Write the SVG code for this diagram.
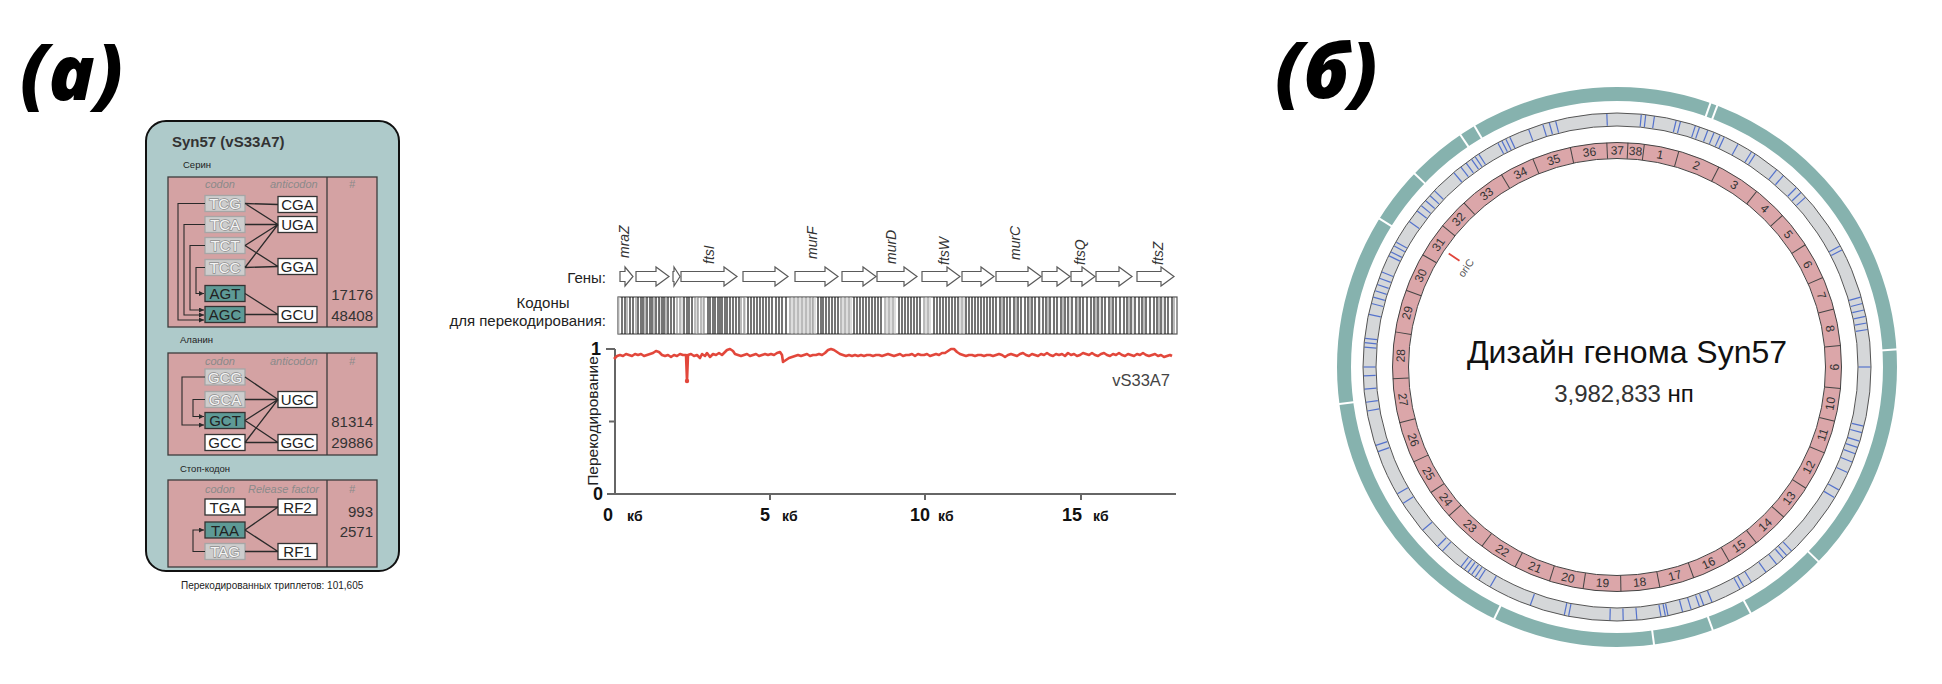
<svg xmlns="http://www.w3.org/2000/svg" width="1942" height="684" viewBox="0 0 1942 684">
<defs>
<style>
text{font-family:"Liberation Sans",Arial,sans-serif}
.pl{font-family:"Open Sans","DejaVu Sans",sans-serif;font-weight:800;font-style:italic;font-size:76px;fill:#000}
.ib{fill:#d4a2a3;stroke:#3c3c3c;stroke-width:1.3}
.hd{font-size:11px;font-style:italic;fill:#8a8a8a}
.bx text{font-size:15px;text-anchor:middle;fill:#222}
.cg rect{fill:#cdcdcd;stroke:#a6a6a6;stroke-width:1.3}
.cg text{fill:#f4f4f4;stroke:#8e8e8e;stroke-width:1.4;paint-order:stroke}
.ct rect{fill:#5e9a96;stroke:#333;stroke-width:1.3}
.cw rect{fill:#fff;stroke:#333;stroke-width:1.3}
.num{font-size:15px;text-anchor:end;fill:#333}
.sec{font-size:9.5px;fill:#222}
.ln{stroke:#2a2a2a;stroke-width:1.3;fill:none}
.el{stroke:#2a2a2a;stroke-width:1.1;fill:none;marker-end:url(#ah)}
.ga{fill:#fff;stroke:#5a5a5a;stroke-width:1.2}
.gl{font-size:14px;font-style:italic;fill:#333}
.ax{stroke:#666;stroke-width:2;fill:none}
.xl{font-size:18px;font-weight:bold;fill:#111}
.xk{font-size:14px;font-weight:bold;fill:#111}
.sl{font-size:12px;fill:#333;text-anchor:middle;dominant-baseline:central}
.bt{stroke:#5472cc;stroke-width:1.2}
.tg{stroke:#fff;stroke-width:2}
.pb{stroke:#444;stroke-width:1}
.bc{stroke-width:1}
</style>
<marker id="ah" viewBox="0 0 6 6" refX="6" refY="3" markerWidth="5" markerHeight="5" markerUnits="userSpaceOnUse" orient="auto"><path d="M0,0L6,3L0,6z" fill="#2a2a2a"/></marker>
<line id="bt" class="bt" x1="1617" y1="113.5" x2="1617" y2="125.5"/>
<line id="tg" class="tg" x1="1617" y1="85" x2="1617" y2="103"/>
<line id="pb" class="pb" x1="1617" y1="142.5" x2="1617" y2="158.5"/>
</defs>
<rect width="1942" height="684" fill="#fff"/>

<text class="pl" x="20" y="100">(a)</text>
<text class="pl" x="1275" y="98">(б)</text>

<!-- Panel a: codon table -->
<g id="syn57-box">
<rect x="146" y="121" width="253" height="450" rx="20" fill="#aecaca" stroke="#111" stroke-width="2"/>
<text x="172" y="147" font-size="15" font-weight="bold" fill="#333">Syn57 (vS33A7)</text>
<text class="sec" x="183" y="168">Серин</text>
<text class="sec" x="180" y="343">Аланин</text>
<text class="sec" x="180" y="472">Стоп-кодон</text>
</g>

<g id="serine-table">
<rect class="ib" x="168" y="177" width="209" height="150"/>
<line x1="327" y1="177" x2="327" y2="327" stroke="#3c3c3c" stroke-width="1.3"/>
<text class="hd" x="205" y="188">codon</text>
<text class="hd" x="270" y="188">anticodon</text>
<text class="hd" x="352" y="188" text-anchor="middle">#</text>
<text class="num" x="373" y="300">17176</text>
<text class="num" x="373" y="321">48408</text>
</g>
<g id="c-TCG" class="bx cg"><rect x="205" y="195.5" width="40" height="16"/><text x="225" y="209">TCG</text></g>
<g id="c-TCA" class="bx cg"><rect x="205" y="216.5" width="40" height="16"/><text x="225" y="230">TCA</text></g>
<g id="c-TCT" class="bx cg"><rect x="205" y="237.5" width="40" height="16"/><text x="225" y="251">TCT</text></g>
<g id="c-TCC" class="bx cg"><rect x="205" y="259.5" width="40" height="16"/><text x="225" y="273">TCC</text></g>
<g id="c-AGT" class="bx ct"><rect x="205" y="285.5" width="40" height="16"/><text x="225" y="299">AGT</text></g>
<g id="c-AGC" class="bx ct"><rect x="205" y="306.5" width="40" height="16"/><text x="225" y="320">AGC</text></g>
<g id="a-CGA" class="bx cw"><rect x="278" y="196.5" width="39" height="16"/><text x="297.5" y="210">CGA</text></g>
<g id="a-UGA" class="bx cw"><rect x="278" y="216.5" width="39" height="16"/><text x="297.5" y="230">UGA</text></g>
<g id="a-GGA" class="bx cw"><rect x="278" y="258.5" width="39" height="16"/><text x="297.5" y="272">GGA</text></g>
<g id="a-GCU" class="bx cw"><rect x="278" y="306.5" width="39" height="16"/><text x="297.5" y="320">GCU</text></g>

<g id="alanine-table">
<rect class="ib" x="168" y="353" width="209" height="102"/>
<line x1="327" y1="353" x2="327" y2="455" stroke="#3c3c3c" stroke-width="1.3"/>
<text class="hd" x="205" y="365">codon</text>
<text class="hd" x="270" y="365">anticodon</text>
<text class="hd" x="352" y="365" text-anchor="middle">#</text>
<text class="num" x="373" y="427">81314</text>
<text class="num" x="373" y="448">29886</text>
</g>
<g id="c-GCG" class="bx cg"><rect x="205" y="369" width="40" height="16"/><text x="225" y="382.5">GCG</text></g>
<g id="c-GCA" class="bx cg"><rect x="205" y="391.5" width="40" height="16"/><text x="225" y="405">GCA</text></g>
<g id="c-GCT" class="bx ct"><rect x="205" y="412.5" width="40" height="16"/><text x="225" y="426">GCT</text></g>
<g id="c-GCC" class="bx cw"><rect x="205" y="434.5" width="40" height="16"/><text x="225" y="448">GCC</text></g>
<g id="a-UGC" class="bx cw"><rect x="278" y="391.5" width="39" height="16"/><text x="297.5" y="405">UGC</text></g>
<g id="a-GGC" class="bx cw"><rect x="278" y="434.5" width="39" height="16"/><text x="297.5" y="448">GGC</text></g>

<g id="stop-table">
<rect class="ib" x="168" y="480" width="209" height="87"/>
<line x1="327" y1="480" x2="327" y2="567" stroke="#3c3c3c" stroke-width="1.3"/>
<text class="hd" x="205" y="493">codon</text>
<text class="hd" x="248" y="493">Release factor</text>
<text class="hd" x="352" y="493" text-anchor="middle">#</text>
<text class="num" x="373" y="517">993</text>
<text class="num" x="373" y="537">2571</text>
</g>
<g id="c-TGA" class="bx cw"><rect x="205" y="499" width="40" height="16"/><text x="225" y="512.5">TGA</text></g>
<g id="c-TAA" class="bx ct"><rect x="205" y="522" width="40" height="16"/><text x="225" y="535.5">TAA</text></g>
<g id="c-TAG" class="bx cg"><rect x="205" y="543.5" width="40" height="16"/><text x="225" y="557">TAG</text></g>
<g id="r-RF2" class="bx cw"><rect x="278" y="499" width="39" height="16"/><text x="297.5" y="512.5">RF2</text></g>
<g id="r-RF1" class="bx cw"><rect x="278" y="543.5" width="39" height="16"/><text x="297.5" y="557">RF1</text></g>

<text id="footer" x="181" y="589" font-size="10" fill="#222">Перекодированных триплетов: 101,605</text>

<g id="connectors">
<path class="ln" d="M245 203.5L278 204.5M245 203.5L278 224.5M245 224.5L278 224.5M245 245.5L278 224.5M245 245.5L278 266.5M245 267.5L278 266.5M245 267.5L278 224.5M245 293.5L278 314.5M245 314.5L278 314.5"/>
<path class="ln" d="M245 377L278 399.5M245 399.5L278 399.5M245 420.5L278 399.5M245 420.5L278 442.5M245 442.5L278 399.5M245 442.5L278 442.5"/>
<path class="ln" d="M245 507L278 507M245 530L278 507M245 530L278 551.5M245 551.5L278 551.5"/>
<path class="el" d="M205 203.5H178V320H204"/>
<path class="el" d="M205 224.5H184V315H204"/>
<path class="el" d="M205 245.5H190V310H204"/>
<path class="el" d="M205 267.5H196V293.5H204"/>
<path class="el" d="M205 377H182V425H204"/>
<path class="el" d="M205 399.5H193V416.5H204"/>
<path class="el" d="M205 551.5H193V530H204"/>
</g>

<!-- Panel a: recoding chart -->
<g id="gene-track">
<text x="606" y="283" font-size="15" fill="#222" text-anchor="end">Гены:</text>
<path class="ga" d="M620 271.5H625V267L633 276.5L625 286V281.5H620Z"/>
<path class="ga" d="M636 271.5H656V267L669 276.5L656 286V281.5H636Z"/>
<path class="ga" d="M673 271.5H674V267L680 276.5L674 286V281.5H673Z"/>
<path class="ga" d="M681 271.5H724V267L737 276.5L724 286V281.5H681Z"/>
<path class="ga" d="M743 271.5H775V267L788 276.5L775 286V281.5H743Z"/>
<path class="ga" d="M795 271.5H825V267L838 276.5L825 286V281.5H795Z"/>
<path class="ga" d="M842 271.5H863V267L876 276.5L863 286V281.5H842Z"/>
<path class="ga" d="M877 271.5H904V267L917 276.5L904 286V281.5H877Z"/>
<path class="ga" d="M922 271.5H947V267L960 276.5L947 286V281.5H922Z"/>
<path class="ga" d="M962 271.5H981V267L994 276.5L981 286V281.5H962Z"/>
<path class="ga" d="M996 271.5H1028V267L1041 276.5L1028 286V281.5H996Z"/>
<path class="ga" d="M1042 271.5H1057V267L1070 276.5L1057 286V281.5H1042Z"/>
<path class="ga" d="M1071 271.5H1082V267L1095 276.5L1082 286V281.5H1071Z"/>
<path class="ga" d="M1096 271.5H1119V267L1132 276.5L1119 286V281.5H1096Z"/>
<path class="ga" d="M1137 271.5H1161V267L1174 276.5L1161 286V281.5H1137Z"/>
<text class="gl" transform="translate(629 258) rotate(-90)">mraZ</text>
<text class="gl" transform="translate(714 264) rotate(-90)">ftsI</text>
<text class="gl" transform="translate(817 259) rotate(-90)">murF</text>
<text class="gl" transform="translate(896 264) rotate(-90)">murD</text>
<text class="gl" transform="translate(949 265) rotate(-90)">ftsW</text>
<text class="gl" transform="translate(1020 260) rotate(-90)">murC</text>
<text class="gl" transform="translate(1085 265) rotate(-90)">ftsQ</text>
<text class="gl" transform="translate(1163 265) rotate(-90)">ftsZ</text>
</g>

<g id="codon-track">
<text x="543" y="308" font-size="15" fill="#222" text-anchor="middle">Кодоны</text>
<text x="606" y="326" font-size="15" fill="#222" text-anchor="end">для перекодирования:</text>
<rect x="618" y="297" width="559" height="37" fill="#fff" stroke="#555" stroke-width="1.2"/>
<path stroke="#bbb" class="bc" d="M619 297v37M660 297v37M682 297v37M697 297v37M703 297v37M745 297v37M792 297v37M796 297v37M800 297v37M804 297v37M808 297v37M812 297v37M815 297v37M843 297v37M847 297v37M851 297v37M887 297v37M891 297v37M895 297v37M926 297v37M930 297v37M960 297v37M964 297v37M1040 297v37M1070 297v37M1100 297v37M1133 297v37M1163 297v37"/>
<path stroke="#777" class="bc" d="M627 297v37M636 297v37M645 297v37M654 297v37M666 297v37M677 297v37M680 297v37M695 297v37M698 297v37M701 297v37M704 297v37M741 297v37M744 297v37M790 297v37M794 297v37M798 297v37M802 297v37M806 297v37M810 297v37M813 297v37M841 297v37M845 297v37M849 297v37M885 297v37M889 297v37M893 297v37M924 297v37M928 297v37M962 297v37M1002 297v37M1016 297v37M1030 297v37M1048 297v37M1063 297v37M1078 297v37M1096 297v37M1111 297v37M1129 297v37M1144 297v37M1159 297v37M1174 297v37"/>
<path stroke="#1a1a1a" stroke-width="1.2" d="M622 297v37M625 297v37M630 297v37M633 297v37M638 297v37M641 297v37M643 297v37M647 297v37M650 297v37M652 297v37M656 297v37M659 297v37M662 297v37M664 297v37M668 297v37M671 297v37M674 297v37M684 297v37M687 297v37M689 297v37M692 297v37M708 297v37M710 297v37M713 297v37M715 297v37M718 297v37M720 297v37M722 297v37M725 297v37M727 297v37M730 297v37M733 297v37M736 297v37M739 297v37M748 297v37M751 297v37M754 297v37M757 297v37M760 297v37M763 297v37M766 297v37M769 297v37M772 297v37M776 297v37M779 297v37M782 297v37M786 297v37M818 297v37M821 297v37M823 297v37M826 297v37M829 297v37M832 297v37M835 297v37M838 297v37M854 297v37M857 297v37M860 297v37M863 297v37M866 297v37M869 297v37M872 297v37M875 297v37M878 297v37M881 297v37M899 297v37M902 297v37M905 297v37M908 297v37M911 297v37M914 297v37M917 297v37M920 297v37M934 297v37M937 297v37M940 297v37M943 297v37M946 297v37M949 297v37M952 297v37M955 297v37M958 297v37M966 297v37M969 297v37M972 297v37M975 297v37M978 297v37M981 297v37M984 297v37M987 297v37M990 297v37M993 297v37M996 297v37M1000 297v37M1004 297v37M1007 297v37M1010 297v37M1014 297v37M1018 297v37M1021 297v37M1025 297v37M1028 297v37M1032 297v37M1035 297v37M1039 297v37M1043 297v37M1046 297v37M1050 297v37M1054 297v37M1057 297v37M1061 297v37M1065 297v37M1068 297v37M1072 297v37M1076 297v37M1080 297v37M1083 297v37M1087 297v37M1091 297v37M1094 297v37M1098 297v37M1102 297v37M1105 297v37M1109 297v37M1113 297v37M1116 297v37M1120 297v37M1124 297v37M1127 297v37M1131 297v37M1135 297v37M1139 297v37M1142 297v37M1146 297v37M1150 297v37M1154 297v37M1157 297v37M1161 297v37M1165 297v37M1168 297v37M1172 297v37"/>
</g>

<g id="recoding-plot">
<path class="ax" d="M615 349V494M607 494H1176M606 349H615M609 421.5H615M770 494v6M925 494v6M1081 494v6"/>
<text class="xl" x="601" y="355" text-anchor="end">1</text>
<text class="xl" x="603" y="500" text-anchor="end">0</text>
<text font-size="15.5" fill="#222" text-anchor="middle" transform="translate(598 421) rotate(-90)">Перекодирование</text>
<text class="xl" x="603" y="521">0</text>
<text class="xk" x="627" y="521">кб</text>
<text class="xl" x="760" y="521">5</text>
<text class="xk" x="782" y="521">кб</text>
<text class="xl" x="910" y="521">10</text>
<text class="xk" x="938" y="521">кб</text>
<text class="xl" x="1062" y="521">15</text>
<text class="xk" x="1093" y="521">кб</text>
<text x="1170" y="386" font-size="16.5" fill="#444" text-anchor="end">vS33A7</text>
<polyline fill="none" stroke="#e2473b" stroke-width="2.6" stroke-linejoin="round" points="614,359 617,356 620,355 623,356 626,354 629,355 632,356 635,354 638,355 641,354 644,356 647,355 650,354 653,353 656,351 659,352 662,355 665,356 668,355 671,357 674,355 677,356 680,354 683,355 686,355 687,381 688,355 691,354 694,356 697,355 700,358 702,354 705,356 707,353 710,357 713,354 716,355 719,353 722,355 725,352 727,350 730,349 733,351 735,354 738,355 741,356 744,355 747,354 750,356 753,355 756,354 759,356 762,355 765,354 768,355 771,354 774,355 777,353 780,352 782,355 783,362 786,360 789,358 792,357 795,356 798,355 801,356 804,355 807,354 810,356 813,355 816,355 819,354 822,355 825,353 828,350 831,349 834,350 837,352 840,354 843,355 846,356 849,355 852,356 855,355 858,356 861,355 864,356 867,355 870,355 873,356 876,355 879,355 882,356 885,355 888,354 891,355 894,356 897,355 900,354 903,356 906,355 909,355 912,354 915,356 918,354 921,355 924,355 927,354 930,356 933,355 936,354 939,355 942,353 945,353 948,351 951,349 954,349 957,352 960,354 963,355 966,356 969,355 972,355 975,356 978,355 981,355 984,356 987,355 990,355 993,356 996,355 999,354 1002,355 1005,357 1008,355 1011,354 1014,355 1017,356 1020,354 1023,353 1026,355 1029,356 1032,354 1035,355 1038,356 1041,354 1044,355 1047,353 1050,355 1053,356 1056,354 1059,355 1062,354 1065,356 1068,353 1071,355 1074,354 1077,356 1080,355 1083,353 1086,354 1089,355 1092,353 1095,355 1098,356 1101,354 1104,353 1107,355 1110,356 1113,354 1116,355 1119,353 1122,355 1125,356 1128,354 1131,355 1134,356 1137,354 1140,355 1143,353 1146,355 1149,356 1152,355 1155,354 1158,356 1161,355 1164,357 1167,356 1170,355 1172,356"/>
<circle cx="687" cy="381" r="2.2" fill="#e2473b"/>
</g>

<!-- Panel b: genome circle -->
<g id="outer-ring">
<circle cx="1617" cy="367" r="273" fill="none" stroke="#86b2ae" stroke-width="14"/>
<use href="#tg" transform="rotate(19.5 1617 367)"/>
<use href="#tg" transform="rotate(21 1617 367)"/>
<use href="#tg" transform="rotate(86.4 1617 367)"/>
<use href="#tg" transform="rotate(134 1617 367)"/>
<use href="#tg" transform="rotate(151.5 1617 367)"/>
<use href="#tg" transform="rotate(160 1617 367)"/>
<use href="#tg" transform="rotate(172.4 1617 367)"/>
<use href="#tg" transform="rotate(206 1617 367)"/>
<use href="#tg" transform="rotate(262.4 1617 367)"/>
<use href="#tg" transform="rotate(302 1617 367)"/>
<use href="#tg" transform="rotate(313.7 1617 367)"/>
<use href="#tg" transform="rotate(326 1617 367)"/>
<use href="#tg" transform="rotate(329.4 1617 367)"/>
</g>

<g id="gray-ring">
<circle cx="1617" cy="367" r="247.5" fill="none" stroke="#d5d7d9" stroke-width="13"/>
<g>
<use href="#bt" transform="rotate(357.7 1617 367)"/><use href="#bt" transform="rotate(346 1617 367)"/><use href="#bt" transform="rotate(344.5 1617 367)"/><use href="#bt" transform="rotate(343 1617 367)"/><use href="#bt" transform="rotate(339.6 1617 367)"/><use href="#bt" transform="rotate(335 1617 367)"/><use href="#bt" transform="rotate(334 1617 367)"/><use href="#bt" transform="rotate(333 1617 367)"/><use href="#bt" transform="rotate(332 1617 367)"/><use href="#bt" transform="rotate(327 1617 367)"/><use href="#bt" transform="rotate(326 1617 367)"/><use href="#bt" transform="rotate(325 1617 367)"/><use href="#bt" transform="rotate(323.5 1617 367)"/><use href="#bt" transform="rotate(322 1617 367)"/><use href="#bt" transform="rotate(320 1617 367)"/><use href="#bt" transform="rotate(314 1617 367)"/><use href="#bt" transform="rotate(312.5 1617 367)"/><use href="#bt" transform="rotate(311 1617 367)"/><use href="#bt" transform="rotate(309.5 1617 367)"/><use href="#bt" transform="rotate(308 1617 367)"/><use href="#bt" transform="rotate(305 1617 367)"/><use href="#bt" transform="rotate(299.5 1617 367)"/><use href="#bt" transform="rotate(298.5 1617 367)"/><use href="#bt" transform="rotate(297 1617 367)"/><use href="#bt" transform="rotate(296 1617 367)"/><use href="#bt" transform="rotate(292 1617 367)"/><use href="#bt" transform="rotate(290.5 1617 367)"/><use href="#bt" transform="rotate(289 1617 367)"/><use href="#bt" transform="rotate(287.5 1617 367)"/><use href="#bt" transform="rotate(286 1617 367)"/><use href="#bt" transform="rotate(284.5 1617 367)"/><use href="#bt" transform="rotate(282 1617 367)"/><use href="#bt" transform="rotate(276.5 1617 367)"/><use href="#bt" transform="rotate(275.5 1617 367)"/><use href="#bt" transform="rotate(274.5 1617 367)"/>
<use href="#bt" transform="rotate(270 1617 367)"/><use href="#bt" transform="rotate(268 1617 367)"/><use href="#bt" transform="rotate(265 1617 367)"/><use href="#bt" transform="rotate(262 1617 367)"/><use href="#bt" transform="rotate(260 1617 367)"/><use href="#bt" transform="rotate(252 1617 367)"/><use href="#bt" transform="rotate(250.5 1617 367)"/><use href="#bt" transform="rotate(240 1617 367)"/><use href="#bt" transform="rotate(237.5 1617 367)"/><use href="#bt" transform="rotate(230 1617 367)"/><use href="#bt" transform="rotate(225 1617 367)"/><use href="#bt" transform="rotate(223.5 1617 367)"/><use href="#bt" transform="rotate(218 1617 367)"/><use href="#bt" transform="rotate(217 1617 367)"/><use href="#bt" transform="rotate(216 1617 367)"/><use href="#bt" transform="rotate(215 1617 367)"/><use href="#bt" transform="rotate(214 1617 367)"/><use href="#bt" transform="rotate(213 1617 367)"/><use href="#bt" transform="rotate(210 1617 367)"/><use href="#bt" transform="rotate(200 1617 367)"/><use href="#bt" transform="rotate(192 1617 367)"/><use href="#bt" transform="rotate(191 1617 367)"/><use href="#bt" transform="rotate(181.6 1617 367)"/><use href="#bt" transform="rotate(178.6 1617 367)"/><use href="#bt" transform="rotate(175.5 1617 367)"/>
<use href="#bt" transform="rotate(170 1617 367)"/><use href="#bt" transform="rotate(169 1617 367)"/><use href="#bt" transform="rotate(168.4 1617 367)"/><use href="#bt" transform="rotate(165 1617 367)"/><use href="#bt" transform="rotate(163 1617 367)"/><use href="#bt" transform="rotate(161 1617 367)"/><use href="#bt" transform="rotate(160 1617 367)"/><use href="#bt" transform="rotate(158 1617 367)"/><use href="#bt" transform="rotate(151 1617 367)"/><use href="#bt" transform="rotate(150 1617 367)"/><use href="#bt" transform="rotate(148 1617 367)"/><use href="#bt" transform="rotate(144 1617 367)"/><use href="#bt" transform="rotate(141 1617 367)"/><use href="#bt" transform="rotate(139 1617 367)"/><use href="#bt" transform="rotate(138 1617 367)"/><use href="#bt" transform="rotate(136.5 1617 367)"/><use href="#bt" transform="rotate(121 1617 367)"/><use href="#bt" transform="rotate(119 1617 367)"/><use href="#bt" transform="rotate(114.6 1617 367)"/><use href="#bt" transform="rotate(112 1617 367)"/><use href="#bt" transform="rotate(110 1617 367)"/><use href="#bt" transform="rotate(108.5 1617 367)"/><use href="#bt" transform="rotate(107 1617 367)"/><use href="#bt" transform="rotate(105 1617 367)"/><use href="#bt" transform="rotate(103.5 1617 367)"/><use href="#bt" transform="rotate(90 1617 367)"/>
<use href="#bt" transform="rotate(5.5 1617 367)"/><use href="#bt" transform="rotate(6.5 1617 367)"/><use href="#bt" transform="rotate(8.5 1617 367)"/><use href="#bt" transform="rotate(13.5 1617 367)"/><use href="#bt" transform="rotate(14.5 1617 367)"/><use href="#bt" transform="rotate(18 1617 367)"/><use href="#bt" transform="rotate(19 1617 367)"/><use href="#bt" transform="rotate(21 1617 367)"/><use href="#bt" transform="rotate(22.5 1617 367)"/><use href="#bt" transform="rotate(24 1617 367)"/><use href="#bt" transform="rotate(25 1617 367)"/><use href="#bt" transform="rotate(28.5 1617 367)"/><use href="#bt" transform="rotate(32 1617 367)"/><use href="#bt" transform="rotate(33 1617 367)"/><use href="#bt" transform="rotate(39 1617 367)"/><use href="#bt" transform="rotate(41 1617 367)"/><use href="#bt" transform="rotate(45 1617 367)"/><use href="#bt" transform="rotate(46.5 1617 367)"/><use href="#bt" transform="rotate(48 1617 367)"/><use href="#bt" transform="rotate(61.5 1617 367)"/><use href="#bt" transform="rotate(62.5 1617 367)"/><use href="#bt" transform="rotate(74 1617 367)"/><use href="#bt" transform="rotate(75.5 1617 367)"/><use href="#bt" transform="rotate(77 1617 367)"/><use href="#bt" transform="rotate(78.5 1617 367)"/><use href="#bt" transform="rotate(80 1617 367)"/><use href="#bt" transform="rotate(81.5 1617 367)"/>
</g>
<circle cx="1617" cy="367" r="254" fill="none" stroke="#555" stroke-width="1"/>
<circle cx="1617" cy="367" r="241" fill="none" stroke="#555" stroke-width="1"/>
</g>

<g id="segment-ring">
<circle cx="1617" cy="367" r="216.5" fill="none" stroke="#dba6a9" stroke-width="16"/>
<circle cx="1617" cy="367" r="224.5" fill="none" stroke="#444" stroke-width="1"/>
<circle cx="1617" cy="367" r="208.5" fill="none" stroke="#444" stroke-width="1"/>
<use href="#pb" transform="rotate(7 1617 367)"/><use href="#pb" transform="rotate(16 1617 367)"/><use href="#pb" transform="rotate(27 1617 367)"/><use href="#pb" transform="rotate(38.5 1617 367)"/><use href="#pb" transform="rotate(47.5 1617 367)"/><use href="#pb" transform="rotate(57 1617 367)"/><use href="#pb" transform="rotate(66.5 1617 367)"/><use href="#pb" transform="rotate(75 1617 367)"/><use href="#pb" transform="rotate(84.5 1617 367)"/><use href="#pb" transform="rotate(95.5 1617 367)"/><use href="#pb" transform="rotate(104 1617 367)"/><use href="#pb" transform="rotate(112.5 1617 367)"/><use href="#pb" transform="rotate(122.7 1617 367)"/><use href="#pb" transform="rotate(132 1617 367)"/><use href="#pb" transform="rotate(141.6 1617 367)"/><use href="#pb" transform="rotate(150 1617 367)"/><use href="#pb" transform="rotate(160 1617 367)"/><use href="#pb" transform="rotate(169 1617 367)"/><use href="#pb" transform="rotate(179 1617 367)"/><use href="#pb" transform="rotate(188.7 1617 367)"/><use href="#pb" transform="rotate(197.5 1617 367)"/><use href="#pb" transform="rotate(207 1617 367)"/><use href="#pb" transform="rotate(217 1617 367)"/><use href="#pb" transform="rotate(228.5 1617 367)"/><use href="#pb" transform="rotate(236 1617 367)"/><use href="#pb" transform="rotate(245 1617 367)"/><use href="#pb" transform="rotate(255.6 1617 367)"/><use href="#pb" transform="rotate(267 1617 367)"/><use href="#pb" transform="rotate(279 1617 367)"/><use href="#pb" transform="rotate(290 1617 367)"/><use href="#pb" transform="rotate(300 1617 367)"/><use href="#pb" transform="rotate(309 1617 367)"/><use href="#pb" transform="rotate(317 1617 367)"/><use href="#pb" transform="rotate(329 1617 367)"/><use href="#pb" transform="rotate(338 1617 367)"/><use href="#pb" transform="rotate(348 1617 367)"/><use href="#pb" transform="rotate(357.4 1617 367)"/><use href="#pb" transform="rotate(2.8 1617 367)"/>
<text class="sl" x="1617" y="150.5" transform="rotate(11.5 1617 367)">1</text>
<text class="sl" x="1617" y="150.5" transform="rotate(21.5 1617 367)">2</text>
<text class="sl" x="1617" y="150.5" transform="rotate(32.75 1617 367)">3</text>
<text class="sl" x="1617" y="150.5" transform="rotate(43 1617 367)">4</text>
<text class="sl" x="1617" y="150.5" transform="rotate(52.25 1617 367)">5</text>
<text class="sl" x="1617" y="150.5" transform="rotate(61.75 1617 367)">6</text>
<text class="sl" x="1617" y="150.5" transform="rotate(70.75 1617 367)">7</text>
<text class="sl" x="1617" y="150.5" transform="rotate(79.75 1617 367)">8</text>
<text class="sl" x="1617" y="150.5" transform="rotate(90 1617 367)">9</text>
<text class="sl" x="1617" y="150.5" transform="rotate(99.75 1617 367) rotate(180 1617 150.5)">10</text>
<text class="sl" x="1617" y="150.5" transform="rotate(108.25 1617 367) rotate(180 1617 150.5)">11</text>
<text class="sl" x="1617" y="150.5" transform="rotate(117.6 1617 367) rotate(180 1617 150.5)">12</text>
<text class="sl" x="1617" y="150.5" transform="rotate(127.35 1617 367) rotate(180 1617 150.5)">13</text>
<text class="sl" x="1617" y="150.5" transform="rotate(136.8 1617 367) rotate(180 1617 150.5)">14</text>
<text class="sl" x="1617" y="150.5" transform="rotate(145.8 1617 367) rotate(180 1617 150.5)">15</text>
<text class="sl" x="1617" y="150.5" transform="rotate(155 1617 367) rotate(180 1617 150.5)">16</text>
<text class="sl" x="1617" y="150.5" transform="rotate(164.5 1617 367) rotate(180 1617 150.5)">17</text>
<text class="sl" x="1617" y="150.5" transform="rotate(174 1617 367) rotate(180 1617 150.5)">18</text>
<text class="sl" x="1617" y="150.5" transform="rotate(183.85 1617 367) rotate(180 1617 150.5)">19</text>
<text class="sl" x="1617" y="150.5" transform="rotate(193.1 1617 367) rotate(180 1617 150.5)">20</text>
<text class="sl" x="1617" y="150.5" transform="rotate(202.25 1617 367) rotate(180 1617 150.5)">21</text>
<text class="sl" x="1617" y="150.5" transform="rotate(212 1617 367) rotate(180 1617 150.5)">22</text>
<text class="sl" x="1617" y="150.5" transform="rotate(222.75 1617 367) rotate(180 1617 150.5)">23</text>
<text class="sl" x="1617" y="150.5" transform="rotate(232.25 1617 367) rotate(180 1617 150.5)">24</text>
<text class="sl" x="1617" y="150.5" transform="rotate(240.5 1617 367) rotate(180 1617 150.5)">25</text>
<text class="sl" x="1617" y="150.5" transform="rotate(250.3 1617 367) rotate(180 1617 150.5)">26</text>
<text class="sl" x="1617" y="150.5" transform="rotate(261.3 1617 367) rotate(180 1617 150.5)">27</text>
<text class="sl" x="1617" y="150.5" transform="rotate(273 1617 367)">28</text>
<text class="sl" x="1617" y="150.5" transform="rotate(284.5 1617 367)">29</text>
<text class="sl" x="1617" y="150.5" transform="rotate(295 1617 367)">30</text>
<text class="sl" x="1617" y="150.5" transform="rotate(304.5 1617 367)">31</text>
<text class="sl" x="1617" y="150.5" transform="rotate(313 1617 367)">32</text>
<text class="sl" x="1617" y="150.5" transform="rotate(323 1617 367)">33</text>
<text class="sl" x="1617" y="150.5" transform="rotate(333.5 1617 367)">34</text>
<text class="sl" x="1617" y="150.5" transform="rotate(343 1617 367)">35</text>
<text class="sl" x="1617" y="150.5" transform="rotate(352.7 1617 367)">36</text>
<text class="sl" x="1617" y="150.5" transform="rotate(0.1 1617 367)">37</text>
<text class="sl" x="1617" y="150.5" transform="rotate(4.9 1617 367)">38</text>
</g>

<g id="oriC">
<line x1="1617" y1="164" x2="1617" y2="177" stroke="#e0443a" stroke-width="1.8" transform="rotate(304 1617 367)"/>
<text x="1469" y="270" font-size="10.5" fill="#555" text-anchor="middle" transform="rotate(-56 1469 270)">oriC</text>
</g>

<g id="genome-title">
<text x="1627" y="363" font-size="32" fill="#111" text-anchor="middle">Дизайн генома Syn57</text>
<text x="1624" y="402" font-size="24" fill="#333" text-anchor="middle">3,982,833 <tspan fill="#111">нп</tspan></text>
</g>
</svg>
